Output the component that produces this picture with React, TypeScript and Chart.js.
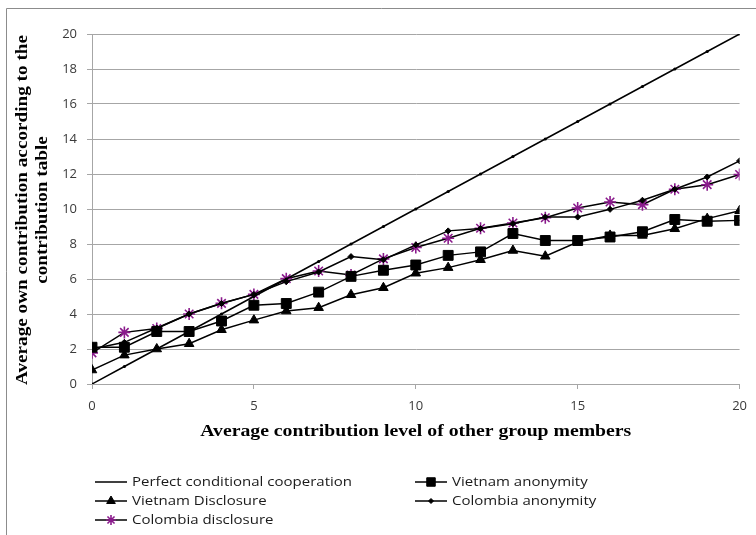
import React, { useEffect, useRef } from "react";
import { Chart, registerables } from "chart.js";
import { drawPoint } from "chart.js/helpers";

Chart.register(...registerables);

const levels = [0, 1, 2, 3, 4, 5, 6, 7, 8, 9, 10, 11, 12, 13, 14, 15, 16, 17, 18, 19, 20];
const perfect = [0, 1, 2, 3, 4, 5, 6, 7, 8, 9, 10, 11, 12, 13, 14, 15, 16, 17, 18, 19, 20];
const vietnamAnonymity = [2.1, 2.1, 3.0, 3.0, 3.6, 4.5, 4.6, 5.25, 6.15, 6.5, 6.8, 7.35, 7.55, 8.6, 8.2, 8.2, 8.4, 8.7, 9.4, 9.3, 9.35];
const vietnamDisclosure = [0.8, 1.65, 2.0, 2.3, 3.1, 3.65, 4.17, 4.36, 5.1, 5.5, 6.33, 6.65, 7.1, 7.63, 7.3, 8.11, 8.49, 8.49, 8.87, 9.45, 9.9];
const colombiaAnonymity = [2.0, 2.38, 3.2, 4.0, 4.6, 5.12, 5.85, 6.4, 7.28, 7.1, 7.95, 8.75, 8.88, 9.16, 9.54, 9.54, 9.98, 10.5, 11.13, 11.83, 12.75];
const colombiaDisclosure = [1.78, 2.95, 3.17, 4.0, 4.61, 5.12, 6.02, 6.46, 6.23, 7.15, 7.8, 8.33, 8.9, 9.2, 9.5, 10.06, 10.4, 10.25, 11.13, 11.39, 11.97];

const seriesNames = [
  "Perfect conditional cooperation",
  "Vietnam anonymity",
  "Vietnam Disclosure",
  "Colombia anonymity",
  "Colombia disclosure",
];
const xTitle = "Average contribution level of other group members";
const yTitle = ["Average own contribution according to the", "contribution table"];

const PURPLE = "#8a1a8c";
const GRID = "#a6a6a6";
const SANS = "'Open Sans', 'Noto Sans', sans-serif";
const SERIF = "'Liberation Serif', 'DejaVu Serif', serif";

const toPts = (ys: number[]) => ys.map((y, i) => ({ x: levels[i], y }));

const frame = {
  id: "frame",
  beforeDraw(chart: any) {
    const { ctx, width, height } = chart;
    ctx.save();
    ctx.fillStyle = "#ffffff";
    ctx.fillRect(0, 0, width, height);
    ctx.strokeStyle = "#8c8c8c";
    ctx.lineWidth = 1;
    ctx.beginPath();
    ctx.moveTo(6.5, height);
    ctx.lineTo(6.5, 8.5);
    ctx.lineTo(width, 8.5);
    ctx.stroke();
    ctx.restore();
  },
};

// Axis titles drawn in a wide (horizontally stretched) bold serif, like the original.
const titles = {
  id: "wideTitles",
  afterDraw(chart: any) {
    const { ctx, chartArea } = chart;
    ctx.save();
    ctx.fillStyle = "#000000";
    ctx.font = `bold 16px ${SERIF}`;
    ctx.textAlign = "center";
    ctx.textBaseline = "middle";
    const wx = ctx.measureText(xTitle).width;
    ctx.save();
    ctx.translate((chartArea.left + chartArea.right) / 2, chartArea.bottom + 48);
    ctx.scale(431 / wx, 1);
    ctx.fillText(xTitle, 0, 0);
    ctx.restore();
    const wy = ctx.measureText(yTitle[0]).width;
    ctx.save();
    ctx.translate(22.5, (chartArea.top + chartArea.bottom) / 2 + 1);
    ctx.rotate(-Math.PI / 2);
    ctx.scale(350 / wy, 1);
    ctx.fillText(yTitle[0], 0, 0);
    ctx.fillText(yTitle[1], 0, 20.5);
    ctx.restore();
    ctx.restore();
  },
};

const legendPlugin = {
  id: "gridLegend",
  afterDraw(chart: any) {
    const { ctx } = chart;
    const cols = [95, 415];
    const rows = [482, 501, 520];
    ctx.save();
    ctx.font = `13.5px ${SANS}`;
    ctx.textBaseline = "middle";
    ctx.textAlign = "left";
    const sx = 220 / ctx.measureText(seriesNames[0]).width;
    chart.data.datasets.forEach((ds: any, i: number) => {
      const x0 = cols[i % 2];
      const y = rows[Math.floor(i / 2)];
      ctx.strokeStyle = "#000000";
      ctx.lineWidth = 1.5;
      ctx.beginPath();
      ctx.moveTo(x0, y);
      ctx.lineTo(x0 + 32, y);
      ctx.stroke();
      if (ds.legendMarker) {
        ctx.fillStyle = ds.pointBackgroundColor;
        ctx.strokeStyle = ds.pointBorderColor;
        ctx.lineWidth = ds.pointBorderWidth;
        drawPoint(ctx, { pointStyle: ds.pointStyle, radius: ds.legendRadius, rotation: 0, borderWidth: ds.pointBorderWidth }, x0 + 16, y);
      }
      ctx.save();
      ctx.translate(x0 + 37, y);
      ctx.scale(sx, 1);
      ctx.fillStyle = "#1a1a1a";
      ctx.fillText(ds.label, 0, 0);
      ctx.restore();
    });
    ctx.restore();
  },
};

export default function App() {
  const ref = useRef<HTMLCanvasElement | null>(null);
  useEffect(() => {
    document.body.style.margin = "0";
    const common = { borderColor: "#000000", borderWidth: 1.5, tension: 0, fill: false };
    const chart = new Chart(ref.current as HTMLCanvasElement, {
      type: "line",
      data: {
        datasets: [
          { ...common, label: seriesNames[0], data: toPts(perfect), pointStyle: "circle", pointRadius: 1.6, pointBackgroundColor: "#000", pointBorderColor: "#000", pointBorderWidth: 0, legendMarker: false } as any,
          { ...common, label: seriesNames[1], data: toPts(vietnamAnonymity), pointStyle: "rect", pointRadius: 7, pointBackgroundColor: "#000", pointBorderColor: "#000", pointBorderWidth: 1, legendMarker: true, legendRadius: 6 } as any,
          { ...common, label: seriesNames[2], data: toPts(vietnamDisclosure), pointStyle: "triangle", pointRadius: 5.5, pointBackgroundColor: "#000", pointBorderColor: "#000", pointBorderWidth: 1, legendMarker: true, legendRadius: 5 } as any,
          { ...common, label: seriesNames[3], data: toPts(colombiaAnonymity), pointStyle: "rectRot", pointRadius: 3, pointBackgroundColor: "#000", pointBorderColor: "#000", pointBorderWidth: 1, legendMarker: true, legendRadius: 2.5 } as any,
          { ...common, label: seriesNames[4], data: toPts(colombiaDisclosure), pointStyle: "star", pointRadius: 6, pointBackgroundColor: PURPLE, pointBorderColor: PURPLE, pointBorderWidth: 1.6, legendMarker: true, legendRadius: 5 } as any,
        ],
      },
      options: {
        animation: false,
        responsive: false,
        devicePixelRatio: 1,
        layout: { padding: { left: 0, right: 14, top: 34, bottom: 91 } },
        plugins: { legend: { display: false }, tooltip: { enabled: false } },
        elements: { point: { hoverRadius: 0 } },
        scales: {
          x: {
            type: "linear",
            min: 0,
            max: 20,
            ticks: { stepSize: 5, padding: 9, color: "#3a3a3a", font: { family: SANS, size: 13 } },
            grid: { drawOnChartArea: false, drawTicks: true, tickLength: 5, color: GRID },
            border: { display: true, color: GRID, width: 1 },
            title: { display: false },
            afterFit(scale: any) { scale.height = 60; },
          },
          y: {
            type: "linear",
            min: 0,
            max: 20,
            ticks: { stepSize: 2, padding: 10, color: "#3a3a3a", font: { family: SANS, size: 13 } },
            grid: { color: GRID, lineWidth: 1, drawTicks: true, tickLength: 5 },
            border: { display: true, color: GRID, width: 1 },
            title: { display: false },
            afterFit(scale: any) { scale.width = 92; },
          },
        },
      },
      plugins: [frame, titles, legendPlugin],
    } as any);
    return () => chart.destroy();
  }, []);
  return (
    <div style={{ position: "absolute", left: 0, top: 0, width: 756, height: 535 }}>
      <canvas ref={ref} width={756} height={535} />
    </div>
  );
}
